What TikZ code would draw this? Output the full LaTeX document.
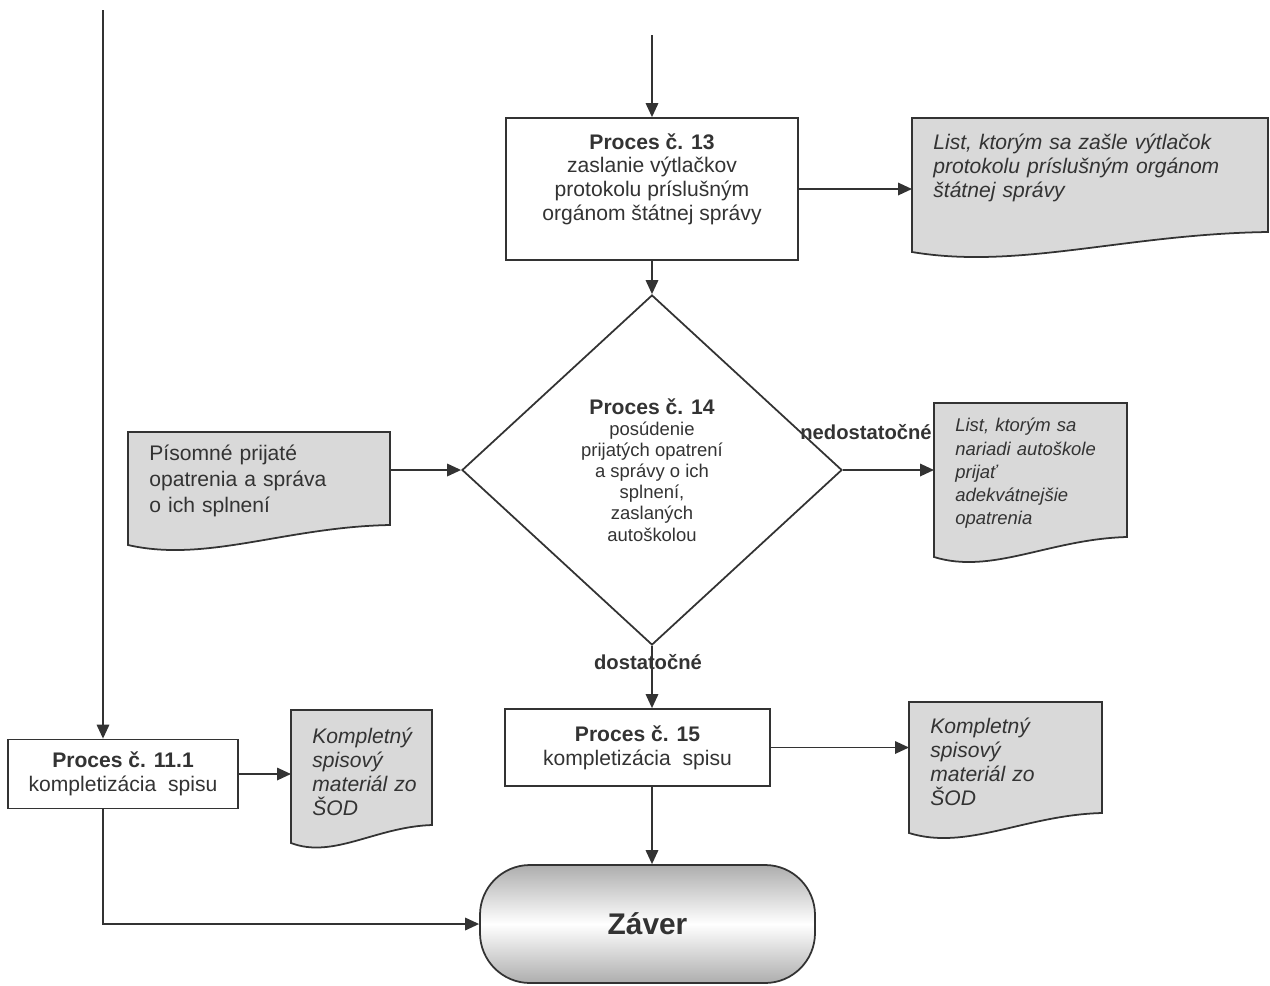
\documentclass[tikz,border=0pt]{standalone}
\usepackage{fontspec}
\setmainfont{Liberation Sans}
\usetikzlibrary{arrows.meta,shapes.geometric,calc}

\tikzset{
  line/.style={draw=black!80, line width=1pt},
  arr/.style={line, -{Triangle[length=2.8mm,width=2.5mm]}},
  procbox/.style={line, rectangle, fill=white, align=center, inner sep=0pt, text=black!80,
    font=\fontsize{12}{13.5}\selectfont},
  doctext/.style={anchor=north west, align=left, text=black!80, inner xsep=4.2mm, inner ysep=3.2mm,
    font=\fontsize{12}{13.6}\selectfont\itshape},
  docfill/.style={line, fill=black!15},
  branch/.style={text=black!80, font=\fontsize{11.5}{13}\selectfont\bfseries},
}

% document symbol: x, y, width, height, raise of right corner
\newcommand{\docshape}[5]{%
  \draw[docfill] (#1,#2) -- ++(#3,0) -- ++(0,#4-#5)
    .. controls +(-0.4*#3,0.1*#5) and +(0.3*#3,0.9*#5) .. (#1,#2+#4) -- cycle;}

\begin{document}
\begin{tikzpicture}[x=0.2mm, y=-0.2mm]
\useasboundingbox (0,0) rectangle (1270,985);

% documents
\docshape{912}{118}{356}{134}{20}
\docshape{128}{432}{262}{113}{20}
\docshape{934}{403}{193}{154}{20}
\docshape{909}{702}{193}{131}{20}
\docshape{291}{710}{141}{133}{18}

\node[doctext, text width=62.8mm] (d13) at (912,118)
  {List, ktorým sa zašle výtlačok\\protokolu príslušným orgánom\\štátnej správy};
\node[doctext, text width=44mm, font=\fontsize{12}{14.7}\selectfont, inner ysep=2.6mm] (pis) at (128,432)
  {Písomné prijaté\\opatrenia a správa\\o ich splnení};
\node[doctext, text width=30.2mm, font=\fontsize{10.5}{13.2}\selectfont\itshape, inner ysep=3mm] (dned) at (934,403)
  {List, ktorým sa\\nariadi autoškole\\prijať\\adekvátnejšie\\opatrenia};
\node[doctext, text width=30.2mm] (d15) at (909,702)
  {Kompletný\\spisový\\materiál zo\\ŠOD};
\node[doctext, text width=21mm, inner ysep=3.6mm] (d111) at (291,710)
  {Kompletný\\spisový\\materiál zo\\ŠOD};

% process boxes
\node[procbox, minimum width=58.4mm, minimum height=28.4mm] (b13) at (652,189) {};
\node[align=center, text=black!80, font=\fontsize{12}{13.5}\selectfont, anchor=north, inner sep=0pt]
  (t13) at ($(b13.north)+(0,16)$)
  {{\bfseries Proces č. 13}\\zaslanie výtlačkov\\protokolu príslušným\\orgánom štátnej správy};
\node[line, diamond, fill=white, minimum width=76mm, minimum height=70mm, inner sep=0pt,
  align=center, text=black!80, font=\fontsize{10.5}{12}\selectfont] (d14) at (652,470)
  {{\fontsize{12}{14}\selectfont\bfseries Proces č. 14}\\posúdenie\\prijatých opatrení\\a správy o ich\\splnení,\\zaslaných\\autoškolou};
\node[procbox, minimum width=53mm, minimum height=15.4mm] (b15) at (637.5,747.5)
  {{\bfseries Proces č. 15}\\kompletizácia\ \ spisu};
\node[procbox, minimum width=46mm, minimum height=13.8mm] (b111) at (123,774)
  {{\bfseries Proces č. 11.1}\\kompletizácia\ \ spisu};
\node[line, rounded corners=10mm, minimum width=67mm, minimum height=23.6mm,
  top color=black!32, bottom color=black!32, middle color=white,
  text=black!80, font=\fontsize{17}{20}\selectfont\bfseries] (zav) at (647.5,924) {Záver};

\coordinate (topL) at (103,10);
\coordinate (top13) at (652,35);

% connectors
\draw[arr] (topL) -- (topL |- b111.north);
\draw[arr] (top13) -- (top13 |- b13.north);
\draw[arr] (b13.east) -- (b13.east -| d13.west);
\draw[arr] (b13.south) -- (d14.north);
\draw[arr] (d14.west -| pis.east) -- (d14.west);
\draw[arr] (d14.east) -- (d14.east -| dned.west);
\draw[arr] (d14.south) -- (d14.south |- b15.north);
\draw[arr] (b15.east) -- (b15.east -| d15.west);
\draw[arr] (d14.south |- b15.south) -- (d14.south |- zav.north);
\draw[arr] (b111.east) -- (b111.east -| d111.west);
\draw[arr] (topL |- b111.south) |- (zav.west);

\node[branch] (nedo) at (866,432) {nedostatočné};
\node[branch] (dost) at (648,662) {dostatočné};
\end{tikzpicture}
\end{document}
